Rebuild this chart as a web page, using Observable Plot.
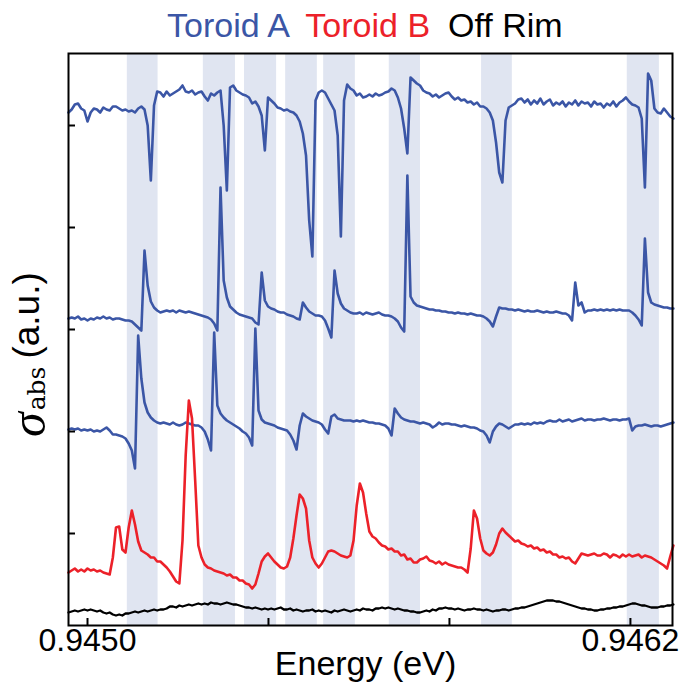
<!DOCTYPE html>
<html><head><meta charset="utf-8">
<script src="https://cdn.jsdelivr.net/npm/d3@7"></script>
<script src="https://cdn.jsdelivr.net/npm/@observablehq/plot@0.6"></script>
<style>body{margin:0;background:#fff} #chart svg{display:block}</style>
</head><body><div id="chart"></div>
<script>
// Energy sampling grid, in micro-eV relative to 0.9450 eV
const energyOffsetUeV = [-42,-35,-28,-21,-14,-7,0,7,14,21,28,35,42,49,56,63,70,77,84,91,98,105,112,119,126,133,140,147,154,161,168,175,182,189,196,203,210,217,224,231,238,245,252,259,266,273,280,287,294,301,308,315,322,329,336,343,350,357,364,371,378,385,392,399,406,413,420,427,434,441,448,455,462,469,476,483,490,497,504,511,518,525,532,539,546,553,560,567,574,581,588,595,602,609,616,623,630,637,644,651,658,665,672,679,686,693,700,707,714,721,728,735,742,749,756,763,770,777,784,791,798,805,812,819,826,833,840,847,854,861,868,875,882,889,896,903,910,917,924,931,938,945,952,959,966,973,980,987,994,1001,1008,1015,1022,1029,1036,1043,1050,1057,1064,1071,1078,1085,1092,1099,1106,1113,1120,1127,1134,1141,1148,1155,1162,1169,1176,1183,1190,1197,1204,1211,1218,1225,1232,1239,1246,1253,1260,1267,1274,1281,1288,1295];

// Toroid A, top spectrum (a.u., vertically offset)
const toroidA1 = [513,516,521,522,517,515,504,513,517,516,
513,518,516,515,519,519,517,515,516,514,
515,513,517,519,516,500,445,520,534,533,
529,534,530,532,534,536,540,534,533,535,
531,533,534,529,525,532,530,533,535,500,
435,538,540,535,533,531,530,528,522,524,
519,510,475,528,525,522,518,517,515,516,
514,513,510,504,492,470,405,369,525,533,
535,533,527,521,515,490,389,525,541,537,
535,530,532,528,529,531,529,532,530,531,
533,534,537,535,528,517,497,472,548,545,
542,540,535,533,532,529,531,528,530,532,
533,529,526,528,525,526,523,524,521,523,
519,519,517,513,505,483,453,443,505,518,
520,522,526,527,523,526,521,525,522,527,
521,524,526,520,523,521,524,519,523,521,
525,520,524,522,523,519,524,521,522,518,
522,520,524,519,523,525,528,524,521,520,
518,507,438,552,545,517,513,512,517,513,
509,507];

// Toroid A, middle spectrum
const toroidA2 = [307,308,307,309,306,307,305,307,306,308,
307,309,307,308,306,307,307,306,305,305,
304,301,298,295,375,340,324,318,315,313,
314,315,314,315,313,315,314,313,314,313,
312,311,310,309,308,306,302,295,438,345,
328,319,316,313,311,310,309,308,307,303,
301,353,325,319,317,316,314,313,313,311,
310,309,307,306,323,318,314,312,310,310,
309,305,297,288,355,332,322,317,315,313,
312,312,313,311,313,312,311,312,313,311,
310,310,309,307,304,298,294,450,329,323,
320,319,318,317,316,316,315,315,314,314,
313,313,312,313,312,312,311,312,311,310,
310,309,307,304,299,309,318,317,317,316,
316,315,316,315,314,315,314,314,315,314,
313,314,313,313,314,313,312,312,310,305,
343,320,323,313,315,315,316,315,316,315,
316,315,316,315,316,315,315,315,313,310,
306,300,387,333,323,321,320,319,318,318,
317,317];

// Toroid A, lower spectrum
const toroidA3 = [196,197,196,197,195,196,195,196,194,195,
194,196,198,195,191,191,190,189,187,182,
175,157,290,247,223,213,208,205,203,202,
203,202,201,203,201,200,201,203,202,201,
200,200,198,194,186,175,293,220,212,208,
205,203,201,199,197,194,192,188,180,297,
215,206,203,202,201,200,198,197,196,195,
191,185,176,200,212,209,207,205,204,203,
201,196,192,209,211,207,206,205,205,205,
204,205,204,205,204,203,203,202,202,201,
200,197,190,217,212,208,206,205,204,204,
203,202,203,202,201,198,200,203,201,202,
202,201,201,200,199,200,199,198,198,197,
195,194,190,183,194,199,202,201,199,197,
199,201,201,202,201,202,201,203,202,203,
202,204,205,204,204,206,204,205,206,204,
205,206,207,205,206,206,205,206,206,207,
206,205,206,206,205,206,206,207,195,199,
200,200,201,200,199,200,200,199,200,201,
202,203];

// Toroid B spectrum
const toroidB = [53,55,57,54,56,54,57,55,56,54,
55,53,52,51,68,98,99,76,73,98,
115,101,84,75,73,71,68,68,64,64,
61,58,54,49,44,42,85,170,225,207,
145,80,68,61,58,57,55,54,53,52,
50,51,48,48,45,45,42,41,37,41,
52,64,69,72,68,64,61,58,57,59,
68,87,110,131,127,117,85,68,62,58,
62,68,74,75,74,72,70,69,68,70,
85,120,142,133,112,94,89,87,83,80,
79,76,77,74,74,70,71,66,67,63,
63,66,67,69,65,64,62,64,61,63,
61,60,59,58,58,56,53,77,115,107,
87,75,72,70,73,81,92,97,93,90,
87,84,85,82,81,79,80,77,78,75,
76,73,74,71,71,68,69,67,68,64,
62,67,72,71,70,71,72,70,70,72,
71,68,71,70,68,71,69,71,69,70,
71,68,70,69,68,66,64,62,60,57,
69,80];

// Off-rim spectrum
const offRim = [13,14,15,14,15,16,15,16,15,14,
15,13,12,13,11,10,11,10,12,12,
13,14,13,14,15,14,15,16,15,16,
16,17,19,19,18,20,19,20,21,20,
21,22,21,22,21,23,22,22,21,22,
23,22,21,21,20,19,18,18,17,18,
17,16,17,16,17,16,17,18,16,16,
17,15,16,15,14,15,15,16,14,15,
14,15,14,13,15,14,15,16,15,14,
15,16,15,17,16,16,15,17,17,18,
17,18,17,16,17,16,15,15,14,14,
13,13,14,15,14,16,15,17,17,18,
17,17,16,17,16,15,16,16,17,16,
16,15,16,15,14,15,15,16,16,15,
16,17,17,18,18,19,20,21,22,23,
24,25,25,25,24,24,23,22,21,20,
19,18,17,17,16,16,15,15,16,16,
17,17,18,18,19,19,20,21,22,22,
21,20,20,19,18,18,18,19,19,20,
20,21];

// Shaded resonance windows (eV)
const bandStart = [0.945088,0.945256,0.945347,0.945438,0.945522,0.945667,0.945871,0.946193];
const bandEnd   = [0.945156,0.945327,0.945418,0.945508,0.945592,0.945736,0.945939,0.946264];

const xTickValues = [0.9450, 0.9454, 0.9458, 0.9462];
const xTickLabels = ["0.9450", "", "", "0.9462"];
const yTickValues = [92, 194, 296, 398, 500];
const seriesNames = ["Toroid A", "Toroid B", "Off Rim"];
const seriesColors = ["#3b56a6", "#ec2129", "#000000"];

const energy = energyOffsetUeV.map(u => 0.945 + u * 1e-6);
const rows = vals => vals.slice(0, energy.length).map((v, i) => ({E: energy[i], v}));
const bands = bandStart.map((s, i) => ({start: s, end: bandEnd[i]}));

const W = 686, H = 689, mL = 68, mR = 14, mT = 53, mB = 64;
const fw = W - mL - mR, fh = H - mT - mB;
const sans = "'Liberation Sans', Arial, Helvetica, sans-serif";

const svg = Plot.plot({
  width: W, height: H,
  marginLeft: mL, marginRight: mR, marginTop: mT, marginBottom: mB,
  x: {domain: [0.944958, 0.946293], axis: null},
  y: {domain: [0, 572], axis: null},
  style: {fontFamily: sans, background: "white", color: "black"},
  marks: [
    Plot.rect(bands, {x1: "start", x2: "end", fill: "#e0e5f1"}),
    Plot.line(rows(toroidA1), {x: "E", y: "v", stroke: seriesColors[0], strokeWidth: 2.6}),
    Plot.line(rows(toroidA2), {x: "E", y: "v", stroke: seriesColors[0], strokeWidth: 2.6}),
    Plot.line(rows(toroidA3), {x: "E", y: "v", stroke: seriesColors[0], strokeWidth: 2.6}),
    Plot.line(rows(toroidB), {x: "E", y: "v", stroke: seriesColors[1], strokeWidth: 2.6}),
    Plot.line(rows(offRim), {x: "E", y: "v", stroke: seriesColors[2], strokeWidth: 2.3}),
    Plot.frame({stroke: "black", strokeWidth: 2}),
    Plot.ruleX(xTickValues, {insetTop: fh - 7, stroke: "black", strokeWidth: 2}),
    Plot.ruleY(yTickValues, {insetRight: fw - 7, stroke: "black", strokeWidth: 2}),
    Plot.text(xTickValues, {x: d => d, text: (d, i) => xTickLabels[i], frameAnchor: "bottom",
      lineAnchor: "top", dy: 3, fontSize: 32, fill: "black"}),
    Plot.text(["Energy (eV)"], {text: d => d, frameAnchor: "bottom", lineAnchor: "top",
      dy: 25, dx: -5, fontSize: 34, fill: "black"})
  ]
});

const s = d3.select(svg);
// Legend line above the frame
const title = s.append("text").attr("x", 167).attr("y", 37).attr("text-anchor", "start")
  .attr("font-family", sans).attr("font-size", 34);
seriesNames.forEach((name, i) => {
  title.append("tspan").attr("fill", seriesColors[i]).attr("dx", i === 0 ? 0 : 18).text(name);
});
// Y axis label
const yl = s.append("text").attr("transform", "translate(45,437) rotate(-90)")
  .attr("text-anchor", "start").attr("fill", "black");
yl.append("tspan").attr("font-family", "'Liberation Serif', 'Times New Roman', serif").attr("font-style", "italic")
  .attr("font-size", 50).text("σ");
yl.append("tspan").attr("font-family", "'DejaVu Serif', serif").attr("font-size", 25)
  .attr("dx", 2).text("abs");
yl.append("tspan").attr("font-family", sans).attr("font-size", 37)
  .attr("dx", 8).attr("dy", -6).text("(a.u.)");

document.getElementById("chart").appendChild(svg);
</script>
</body></html>
